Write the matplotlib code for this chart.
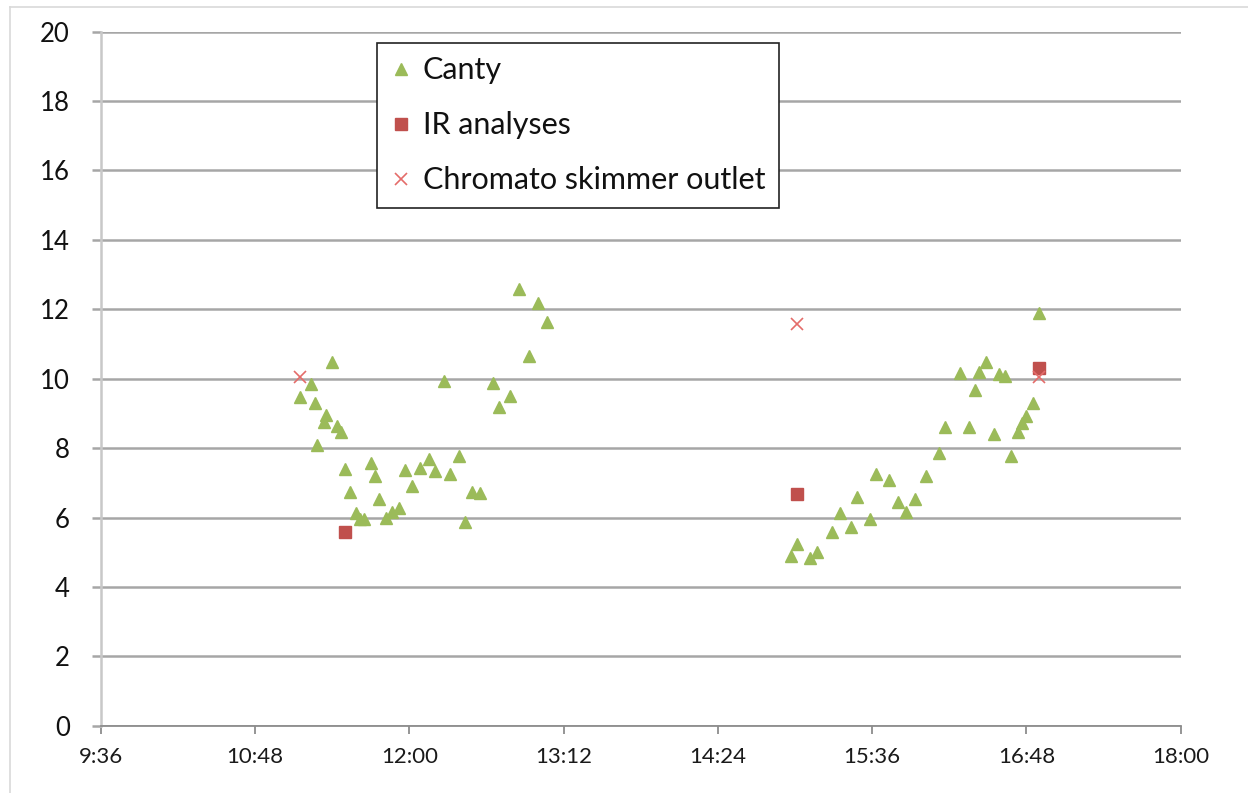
import matplotlib
matplotlib.use("Agg")
import matplotlib.pyplot as plt
from matplotlib.lines import Line2D

# ---------------- data ----------------
canty_times = [
    "11:09", "11:14", "11:24", "11:16", "11:21", "11:20", "11:26", "11:28", "11:17", "11:30",
    "11:32", "11:35", "11:37", "11:39", "11:42", "11:44", "11:46", "11:49", "11:52", "11:55",
    "11:58", "12:01", "12:05", "12:09", "12:12", "12:16", "12:19", "12:23", "12:26", "12:29",
    "12:33", "12:39", "12:42", "12:47", "12:51", "12:56", "13:00", "13:04",
    "14:58", "15:01", "15:07", "15:10", "15:17", "15:21", "15:26", "15:29", "15:35", "15:38",
    "15:44", "15:48", "15:52", "15:56", "16:01", "16:07", "16:10", "16:17", "16:21", "16:24",
    "16:26", "16:29", "16:33", "16:35", "16:38", "16:41", "16:44", "16:46", "16:48", "16:51",
    "16:54",
]
canty_values = [
    9.48, 9.84, 10.47, 9.29, 8.95, 8.76, 8.64, 8.47, 8.09, 7.40,
    6.73, 6.12, 5.95, 5.95, 7.56, 7.20, 6.52, 6.00, 6.17, 6.27,
    7.37, 6.91, 7.42, 7.68, 7.34, 9.94, 7.24, 7.77, 5.86, 6.74,
    6.70, 9.87, 9.19, 9.51, 12.58, 10.65, 12.17, 11.62,
    4.90, 5.24, 4.84, 5.01, 5.59, 6.12, 5.74, 6.58, 5.95, 7.24,
    7.08, 6.46, 6.17, 6.52, 7.21, 7.87, 8.60, 10.16, 8.62, 9.67,
    10.20, 10.49, 8.41, 10.13, 10.09, 7.77, 8.47, 8.73, 8.93, 9.29,
    11.90,
]

ir_times = ["11:30", "15:01", "16:54"]
ir_values = [5.57, 6.68, 10.30]

chromato_times = ["11:09", "15:01", "16:54"]
chromato_values = [10.04, 11.57, 10.04]

x_tick_labels = ["9:36", "10:48", "12:00", "13:12", "14:24", "15:36", "16:48", "18:00"]
y_ticks = [0, 2, 4, 6, 8, 10, 12, 14, 16, 18, 20]

series_names = ["Canty", "IR analyses", "Chromato skimmer outlet"]


def to_hours(s):
    h, m = s.split(":")
    return int(h) + int(m) / 60.0


# ---------------- figure ----------------
W, H = 1248, 793
fig = plt.figure(figsize=(W / 100, H / 100), dpi=100)
fig.patch.set_facecolor("white")

# light chart-area border (left / top)
fig.add_artist(Line2D([9.5 / W, 9.5 / W], [0, 1 - 6.5 / H], color="#d9d9d9", lw=1.2))
fig.add_artist(Line2D([9.5 / W, 1], [1 - 6.5 / H, 1 - 6.5 / H], color="#d9d9d9", lw=1.2))

left, right = 101 / W, 1180.7 / W
top, bottom = 1 - 31.7 / H, 1 - 725.7 / H
ax = fig.add_axes([left, bottom, right - left, top - bottom])

FONT = ["Lato", "DejaVu Sans"]

green = "#9BBB59"
red = "#C0504D"
xred = "#E46C6A"

ax.plot([to_hours(t) for t in canty_times], canty_values, linestyle="none",
        marker="^", ms=9, color=green, mec=green, label=series_names[0], zorder=3)
ax.plot([to_hours(t) for t in ir_times], ir_values, linestyle="none",
        marker="s", ms=8.5, color=red, mec=red, label=series_names[1], zorder=4)
ax.plot([to_hours(t) for t in chromato_times], chromato_values, linestyle="none",
        marker="x", ms=8, mew=1.2, color=xred, label=series_names[2], zorder=5)

xt = [to_hours(t) for t in x_tick_labels]
ax.set_xlim(xt[0], xt[-1])
ax.set_ylim(0, 20)
ax.set_xticks(xt)
ax.set_xticklabels(x_tick_labels, fontfamily=FONT, fontsize=16, color="#1a1a1a")
ax.set_yticks(y_ticks)
ax.set_yticklabels([str(v) for v in y_ticks], fontfamily=FONT, fontsize=18.5, color="#111111")

ax.yaxis.grid(True, color="#a6a6a6", lw=1.8)
ax.set_axisbelow(True)
for s in ["top", "right"]:
    ax.spines[s].set_visible(False)
ax.spines["left"].set_color("#c8c8c8")
ax.spines["left"].set_linewidth(1.8)
ax.spines["bottom"].set_color("#8c8c8c")
ax.spines["bottom"].set_linewidth(1.3)
ax.tick_params(axis="y", direction="out", length=6.5, width=1.8, color="#a6a6a6", pad=16)
ax.tick_params(axis="x", direction="out", length=5.5, width=1.3, color="#8c8c8c", pad=10)

leg = ax.legend(loc="upper left", bbox_to_anchor=((377 - 101) / (1180.7 - 101), 1 - (42.7 - 31.7) / 694),
                prop={"family": FONT, "size": 22}, frameon=True, fancybox=False,
                edgecolor="#222222", framealpha=1, borderpad=0.45, labelspacing=0.88,
                handlelength=0.7, handletextpad=0.35, borderaxespad=0)
leg.get_frame().set_linewidth(1.2)
for t in leg.get_texts():
    t.set_color("#111111")
for h in leg.legend_handles:
    h.set_markersize(8)

fig.savefig("out.png", dpi=100, facecolor="white")
